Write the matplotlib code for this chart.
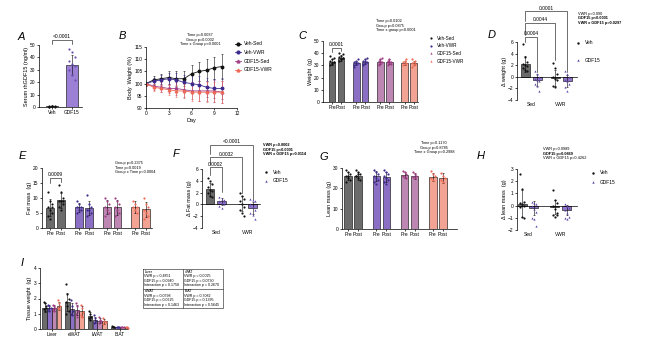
import numpy as np
import matplotlib.pyplot as plt
from matplotlib.lines import Line2D

plt.rcParams['font.family'] = ['Liberation Sans', 'DejaVu Sans']
plt.rcParams['axes.linewidth'] = 0.5

# ---- colours
veh_sed_bar, veh_sed_dot = '#6b6b6b', '#111111'
veh_vwr_bar, veh_vwr_dot = '#8b6fc4', '#3d2c8d'
gdf_sed_bar, gdf_sed_dot = '#bd86b3', '#a23d86'
gdf_vwr_bar, gdf_vwr_dot = '#f3a393', '#ee6a55'
gdf_bar, gdf_dot = '#9276cb', '#5e44a8'

# ---- A: serum rhGDF15
A_labels = ['Veh', 'GDF15']
A_means = [0.5, 34.0]
A_err = [0.3, 8.0]
A_pts = [[0.3, 0.5, 0.8, 0.2, 0.6, 0.4, 0.7, 0.5],
         [47, 44, 40, 37, 35, 33, 30, 26, 22]]

# ---- B: body weight time course
B_days = [0, 1, 2, 3, 4, 5, 6, 7, 8, 9, 10]
B_veh_sed = [100, 101.5, 102, 102.5, 102, 102, 104, 105, 105.5, 106.5, 107]
B_veh_vwr = [100, 101, 101.5, 102, 101.5, 100.5, 100, 99.5, 98.5, 98, 98]
B_gdf_sed = [100, 99, 98.5, 98, 98, 97.5, 97, 97, 97, 97, 96.5]
B_gdf_vwr = [100, 98.5, 98, 97.5, 97, 97, 96.5, 96.5, 96.5, 96.5, 96.5]
B_err_veh_sed = [0, 1.5, 2, 2.5, 3, 3, 3.5, 4, 4.5, 4.5, 5]
B_err_veh_vwr = [0, 1.5, 2, 2.5, 3, 3, 3.5, 3.5, 4, 4, 4.5]
B_err_gdf_sed = [0, 1.5, 2, 2, 2.5, 3, 3.5, 4, 4, 4.5, 4.5]
B_err_gdf_vwr = [0, 1.5, 1.5, 2, 2.5, 3, 3.5, 3.5, 4, 4, 4.5]

group_names = ['Veh-Sed', 'Veh-VWR', 'GDF15-Sed', 'GDF15-VWR']

# ---- C: body weight pre/post (pre, post per group)
C_means = [[33, 36], [32, 33], [33, 33], [32, 32]]
C_err = [[2.5, 2.5], [2, 2], [2, 2], [1.5, 2]]
C_pts = [[[30, 32, 33, 34, 35, 36, 38, 31, 33], [34, 35, 36, 37, 38, 39, 40, 35, 36]],
         [[29, 31, 32, 33, 34, 35, 30, 33], [30, 32, 33, 34, 35, 36, 31, 34]],
         [[30, 32, 33, 34, 35, 36, 31, 34], [30, 32, 33, 34, 35, 31, 33, 34]],
         [[30, 31, 32, 33, 34, 35], [29, 30, 31, 32, 33, 34, 35]]]

# ---- D: delta weight (Sed Veh, Sed GDF15, VWR Veh, VWR GDF15)
D_means = [2.2, -0.5, -0.2, -0.7]
D_err = [1.4, 1.0, 1.3, 1.0]
D_pts = [[5.6, 3.5, 2.5, 2.2, 2.0, 1.8, 1.5, 1.2, 1.0],
         [1.0, 0.5, 0.0, -0.3, -0.5, -0.8, -1.2, -1.5, -2.5],
         [2.3, 1.5, 0.5, 0.0, -0.3, -0.6, -1.5, -1.8],
         [1.0, 0.5, 0.0, -0.5, -0.8, -1.2, -1.8, -2.5]]

# ---- E: fat mass pre/post
E_means = [[6.8, 9.3], [6.9, 6.7], [7.0, 7.0], [6.9, 6.3]]
E_err = [[2.8, 2.5], [1.5, 2.2], [2.3, 2.5], [2.0, 2.5]]
E_pts = [[[12, 9, 8, 7, 6, 5, 4, 3, 7], [14.5, 12, 10, 9, 9, 8, 7, 6, 9]],
         [[9, 8, 7, 7, 6, 6, 5], [11, 8, 7, 6, 6, 5, 4]],
         [[10, 9, 8, 7, 6, 5, 4], [10, 9, 8, 7, 6, 5, 4]],
         [[9, 8, 7, 7, 6, 5], [10, 8, 7, 6, 5, 4, 3]]]

# ---- F: delta fat mass
F_means = [2.6, 0.5, 0.1, -0.6]
F_err = [1.1, 0.6, 1.3, 1.0]
F_pts = [[4.5, 4.0, 3.5, 3.0, 2.5, 2.2, 2.0, 1.5, 1.2],
         [1.2, 1.0, 0.8, 0.5, 0.2, 0.0, -0.3, -0.6, 0.6],
         [2.0, 1.5, 1.0, 0.5, 0.0, -0.5, -1.0, -1.5, -2.0],
         [1.0, 0.8, 0.5, 0.0, -0.5, -1.0, -1.5, -1.8, -2.5]]

# ---- G: lean mass pre/post
G_means = [[26, 26], [26, 25.5], [26.5, 26], [25.5, 25]]
G_err = [[1.8, 1.8], [2.5, 2.5], [1.5, 1.5], [2.0, 2.5]]
G_pts = [[[29, 28, 27, 26, 25, 24, 23, 26], [29, 28, 27, 26, 25, 24, 26, 27]],
         [[29, 28, 27, 26, 25, 24, 23, 22], [29, 28, 27, 26, 25, 24, 23, 22]],
         [[28.5, 28, 27, 26, 25.5, 25], [28, 27, 26, 25.5, 25]],
         [[28.5, 27, 26, 25, 24], [27.5, 26, 25, 24, 23]]]

# ---- H: delta lean mass
H_means = [0.15, -0.2, -0.1, -0.35]
H_err = [1.1, 0.6, 0.6, 0.4]
H_pts = [[2.6, 1.4, 0.3, 0.2, 0.1, 0.0, -0.1, -0.9, -1.0],
         [0.3, 0.2, 0.1, 0.0, -0.3, -0.5, -1.0, -1.1, -1.7],
         [1.3, 0.5, 0.2, 0.0, -0.3, -0.6, -0.8, -0.9, -0.8],
         [0.1, 0.0, -0.2, -0.4, -0.6, -0.9, -1.0, -1.1]]

# ---- I: tissue weights
I_tissues = ['Liver', 'eWAT', 'iWAT', 'iBAT']
I_means = [[1.4, 1.4, 1.4, 1.5], [1.75, 1.3, 1.25, 1.15],
           [0.85, 0.6, 0.55, 0.5], [0.15, 0.12, 0.12, 0.1]]
I_err = [[0.3, 0.2, 0.2, 0.25], [0.6, 0.4, 0.35, 0.35],
         [0.25, 0.2, 0.15, 0.15], [0.03, 0.02, 0.02, 0.02]]
I_pts = [[[1.8, 1.7, 1.5, 1.3, 1.2, 1.4], [1.6, 1.5, 1.4, 1.3, 1.2], [1.6, 1.5, 1.4, 1.3, 1.2], [1.9, 1.7, 1.5, 1.4, 1.3]],
         [[2.95, 2.3, 2.0, 1.8, 1.5, 1.2, 1.0], [1.9, 1.5, 1.2, 1.0, 0.9], [1.7, 1.5, 1.2, 1.0, 0.8], [1.6, 1.4, 1.1, 0.9, 0.8]],
         [[1.15, 1.0, 0.8, 0.7, 0.6], [0.95, 0.7, 0.5, 0.4], [0.8, 0.6, 0.5, 0.4], [0.7, 0.55, 0.45, 0.35]],
         [[0.18, 0.15, 0.13], [0.14, 0.12, 0.1], [0.14, 0.12, 0.1], [0.12, 0.1, 0.09]]]

I_table = [['Liver', 'VWR p = 0.4851', 'GDF15 p = 0.0940', 'Interaction p = 0.1758'],
           ['iWAT', 'VWR p = 0.0025', 'GDF15 p = 0.0730', 'Interaction p = 0.2670'],
           ['eWAT', 'VWR p = 0.0798', 'GDF15 p = 0.0625', 'Interaction p = 0.1463'],
           ['iBAT', 'VWR p = 0.7082', 'GDF15 p = 0.1395', 'Interaction p = 0.5645']]

bar_cols = [veh_sed_bar, veh_vwr_bar, gdf_sed_bar, gdf_vwr_bar]
dot_cols = [veh_sed_dot, veh_vwr_dot, gdf_sed_dot, gdf_vwr_dot]

W, H = 650, 343
fig = plt.figure(figsize=(6.5, 3.43), dpi=100)


def px_axes(x0, y0, x1, y1):
    return fig.add_axes([x0 / W, 1 - y1 / H, (x1 - x0) / W, (y1 - y0) / H])


def style(ax, ylabel):
    ax.spines[['top', 'right']].set_visible(False)
    ax.tick_params(labelsize=3.5, length=1.5, width=0.5, pad=1)
    ax.set_ylabel(ylabel, fontsize=4, labelpad=1)
    ax.patch.set_alpha(0)


def bar_dots(ax, x, mean, err, pts, fill, dot, marker='o', width=0.75):
    ax.bar(x, mean, width, color=fill, edgecolor='black', linewidth=0.4, zorder=1)
    ax.errorbar(x, mean, yerr=err, fmt='none', ecolor='black', elinewidth=0.4,
                capsize=1, capthick=0.4, zorder=2)
    off = ((np.arange(len(pts)) % 3) - 1) * width * 0.25
    ax.scatter(x + off, pts, s=2.5, color=dot, marker=marker, linewidths=0, zorder=3, clip_on=False)


def bracket(ax, x1, x2, y, yl1, yl2, label):
    ax.plot([x1, x1, x2, x2], [yl1, y, y, yl2], color='black', lw=0.4, clip_on=False)
    ax.annotate(label, ((x1 + x2) / 2, y), xytext=(0, 0.5), textcoords='offset points',
                ha='center', va='bottom', fontsize=3.5, annotation_clip=False)


def prepost(ax, means, errs, pts, step, xlim, ylim, yticks, ylabel):
    xs, labels = [], []
    for g in range(4):
        for k in range(2):
            x = g * step + k
            bar_dots(ax, x, means[g][k], errs[g][k], pts[g][k], bar_cols[g], dot_cols[g])
            xs.append(x)
            labels.append(['Pre', 'Post'][k])
    ax.set_xticks(xs, labels)
    ax.tick_params(axis='x', length=0)
    ax.set_xlim(*xlim)
    ax.set_ylim(*ylim)
    ax.set_yticks(yticks)
    style(ax, ylabel)


def delta(ax, means, errs, pts, xs, xlim, ylim, yticks, ylabel):
    for i in range(4):
        if i % 2 == 0:
            bar_dots(ax, xs[i], means[i], errs[i], pts[i], veh_sed_bar, veh_sed_dot)
        else:
            bar_dots(ax, xs[i], means[i], errs[i], pts[i], gdf_bar, gdf_dot, marker='^')
    ax.set_xlim(*xlim)
    ax.set_ylim(*ylim)
    ax.set_yticks(yticks)
    style(ax, ylabel)
    ax.spines['bottom'].set_position(('data', 0))
    ax.set_xticks([])
    tr = ax.get_xaxis_transform()
    ax.text((xs[0] + xs[1]) / 2, -0.04, 'Sed', transform=tr, ha='center', va='top', fontsize=3.5)
    ax.text((xs[2] + xs[3]) / 2, -0.04, 'VWR', transform=tr, ha='center', va='top', fontsize=3.5)


# A
axA = px_axes(39, 45, 82, 107)
for i in range(2):
    bar_dots(axA, i, A_means[i], A_err[i], A_pts[i],
             ['#222222', '#9b80d6'][i], ['#111111', '#6d4fb0'][i], width=0.6)
axA.set_xticks([0, 1], A_labels)
axA.tick_params(axis='x', length=0)
axA.set_xlim(-0.65, 1.5)
axA.set_ylim(0, 50)
axA.set_yticks(range(0, 51, 10))
style(axA, 'Serum rhGDF15 (ng/ml)')
bracket(axA, 0, 1, 54, 51, 51, '<0.0001')

# B
axB = px_axes(146, 47, 237, 108)
B_series = [(B_veh_sed, B_err_veh_sed, veh_sed_dot, 'o'),
            (B_veh_vwr, B_err_veh_vwr, veh_vwr_dot, 'o'),
            (B_gdf_sed, B_err_gdf_sed, gdf_sed_dot, '^'),
            (B_gdf_vwr, B_err_gdf_vwr, gdf_vwr_dot, '^')]
for vals, err, c, m in B_series:
    axB.errorbar(B_days, vals, yerr=err, color=c, marker=m, ms=1.8, lw=0.6,
                 elinewidth=0.4, capsize=1, capthick=0.4)
axB.set_xlim(0, 12)
axB.set_xticks(range(0, 13, 3))
axB.set_ylim(90, 115)
axB.set_yticks(range(90, 116, 5))
style(axB, 'Body  Weight (%)')
axB.set_xlabel('Day', fontsize=4, labelpad=1)
handles = [Line2D([], [], color=c, marker=m, ms=2, lw=0.6) for _, _, c, m in B_series]
axB.legend(handles, group_names, loc='upper left', bbox_to_anchor=(233 / W, 1 - 39 / H),
           bbox_transform=fig.transFigure, frameon=False, fontsize=3.5,
           handlelength=1.2, labelspacing=0.75, handletextpad=0.6, borderpad=0)

# C
axC = px_axes(323, 41, 418, 102)
prepost(axC, C_means, C_err, C_pts, 2.7, (-1.0, 9.6), (0, 50), range(0, 51, 10), 'Weight  (g)')
bracket(axC, 0, 1, 44.3, 41, 42, '0.0001')

# D
axD = px_axes(517, 42, 577, 100)
D_x = [0, 1, 2.5, 3.5]
delta(axD, D_means, D_err, D_pts, D_x, (-0.67, 4.33), (-4, 6), range(-4, 7, 2), 'Δ weight (g)')
bracket(axD, D_x[0], D_x[1], 6.86, 6.0, 0.8, '0.0004')
bracket(axD, D_x[0], D_x[2], 9.3, 7.2, 2.9, '0.0044')
bracket(axD, D_x[0], D_x[3], 11.3, 9.6, 0.8, '0.0001')

# E
axE = px_axes(42, 168, 152, 228)
prepost(axE, E_means, E_err, E_pts, 2.7, (-0.8, 9.7), (0, 20), range(0, 21, 5), 'Fat mass  (g)')
bracket(axE, 0, 1, 16.7, 15, 15.5, '0.0009')

# F
axF = px_axes(202, 169, 260, 228)
F_x = [0, 1, 2.8, 3.7]
delta(axF, F_means, F_err, F_pts, F_x, (-0.7, 4.35), (-4, 6), range(-4, 7, 2), 'Δ Fat mass (g)')
bracket(axF, F_x[0], F_x[1], 6.3, 5.0, 2.1, '0.0002')
bracket(axF, F_x[0], F_x[2], 8.0, 6.8, 1.9, '0.0032')
bracket(axF, F_x[0], F_x[3], 10.1, 8.6, 0.7, '<0.0001')

# G
axG = px_axes(342, 168, 457, 229)
prepost(axG, G_means, G_err, G_pts, 2.83, (-0.6, 10.9), (0, 30), range(0, 31, 10), 'Lean mass (g)')

# H
axH = px_axes(517, 169, 577, 230)
H_x = [0, 1, 2.75, 3.75]
delta(axH, H_means, H_err, H_pts, H_x, (-0.42, 4.6), (-2, 3), range(-2, 4), 'Δ lean mass  (g)')

# I
axI = px_axes(40, 268, 128, 329)
for t in range(4):
    for g in range(4):
        x = t + (g - 1.5) * 0.21
        bar_dots(axI, x, I_means[t][g], I_err[t][g], I_pts[t][g], bar_cols[g], dot_cols[g], width=0.2)
axI.set_xticks(range(4), I_tissues)
axI.tick_params(axis='x', length=0)
axI.set_xlim(-0.52, 3.35)
axI.set_ylim(0, 4)
axI.set_yticks(range(0, 5))
style(axI, 'Tissue weight  (g)')

# overlay for letters, stats text, legends and table
ov = fig.add_axes([0, 0, 1, 1])
ov.set_xlim(0, W)
ov.set_ylim(H, 0)
ov.axis('off')
ov.patch.set_alpha(0)

for letter, x, y in [('A', 21, 37), ('B', 122, 36), ('C', 302, 36), ('D', 492, 35), ('E', 22, 156),
                     ('F', 176, 154), ('G', 324, 157), ('H', 481, 156), ('I', 22, 263)]:
    ov.text(x, y, letter, fontsize=8, style='italic', ha='center', va='center')


def stats(x, y, lines, ha='left', bold=()):
    for i, s in enumerate(lines):
        ov.text(x, y + i * 4.5, s, fontsize=2.8, ha=ha, va='center',
                fontweight='bold' if i in bold else 'normal')


stats(200, 35, ['Time p=0.0037', 'Group p=0.0002', 'Time x Group p<0.0001'], ha='center')
stats(376, 21, ['Time p=0.0102', 'Group p=0.0875', 'Time x group p<0.0001'])
stats(578, 14, ['VWR p=0.090', 'GDF15 p<0.0001', 'VWR x GDF15 p=0.0297'], bold=(1, 2))
stats(115, 163, ['Group p=0.2375', 'Time p=0.0019', 'Group x Time p=0.0004'])
stats(263, 145, ['VWR p=0.0002', 'GDF15 p<0.0001', 'VWR x GDF15 p=0.0114'], bold=(0, 1, 2))
stats(434, 143, ['Time p=0.1170', 'Group p=0.8785', 'Time x Group p=0.2988'], ha='center')
stats(543, 149, ['VWR p=0.0989', 'GDF15 p=0.0869', 'VWR x GDF15 p=0.4262'], bold=(1,))

# C legend
for i, name in enumerate(group_names):
    y = 38 + i * 7.7
    ov.scatter(431, y, s=2.5, color=dot_cols[i], marker='o' if i < 2 else '^', linewidths=0)
    ov.text(437, y, name, fontsize=3.3, va='center')

# Veh / GDF15 legends for D, F, H
for mx, my, gap in [(578, 43, 17), (266, 172, 8.5), (593, 173, 9)]:
    ov.scatter(mx, my, s=3, color=veh_sed_dot, marker='o', linewidths=0)
    ov.text(mx + 7, my, 'Veh', fontsize=3.5, va='center')
    ov.scatter(mx, my + gap, s=3, color=gdf_dot, marker='^', linewidths=0)
    ov.text(mx + 7, my + gap, 'GDF15', fontsize=3.5, va='center')

# I table
tx0, tx1, ty0, ty1 = 143, 223, 269, 308
tmx, tmy = 183, 288.5
ov.plot([tx0, tx1, tx1, tx0, tx0], [ty0, ty0, ty1, ty1, ty0], color='#444444', lw=0.5)
ov.plot([tmx, tmx], [ty0, ty1], color='#444444', lw=0.5)
ov.plot([tx0, tx1], [tmy, tmy], color='#444444', lw=0.5)
cells = [(tx0, ty0), (tmx, ty0), (tx0, tmy), (tmx, tmy)]
for (cx, cy), lines in zip(cells, I_table):
    for j, s in enumerate(lines):
        ov.text(cx + 1.5, cy + 2.6 + j * 4.5, s, fontsize=2.6, va='center')

fig.savefig('out.png', dpi=100)
